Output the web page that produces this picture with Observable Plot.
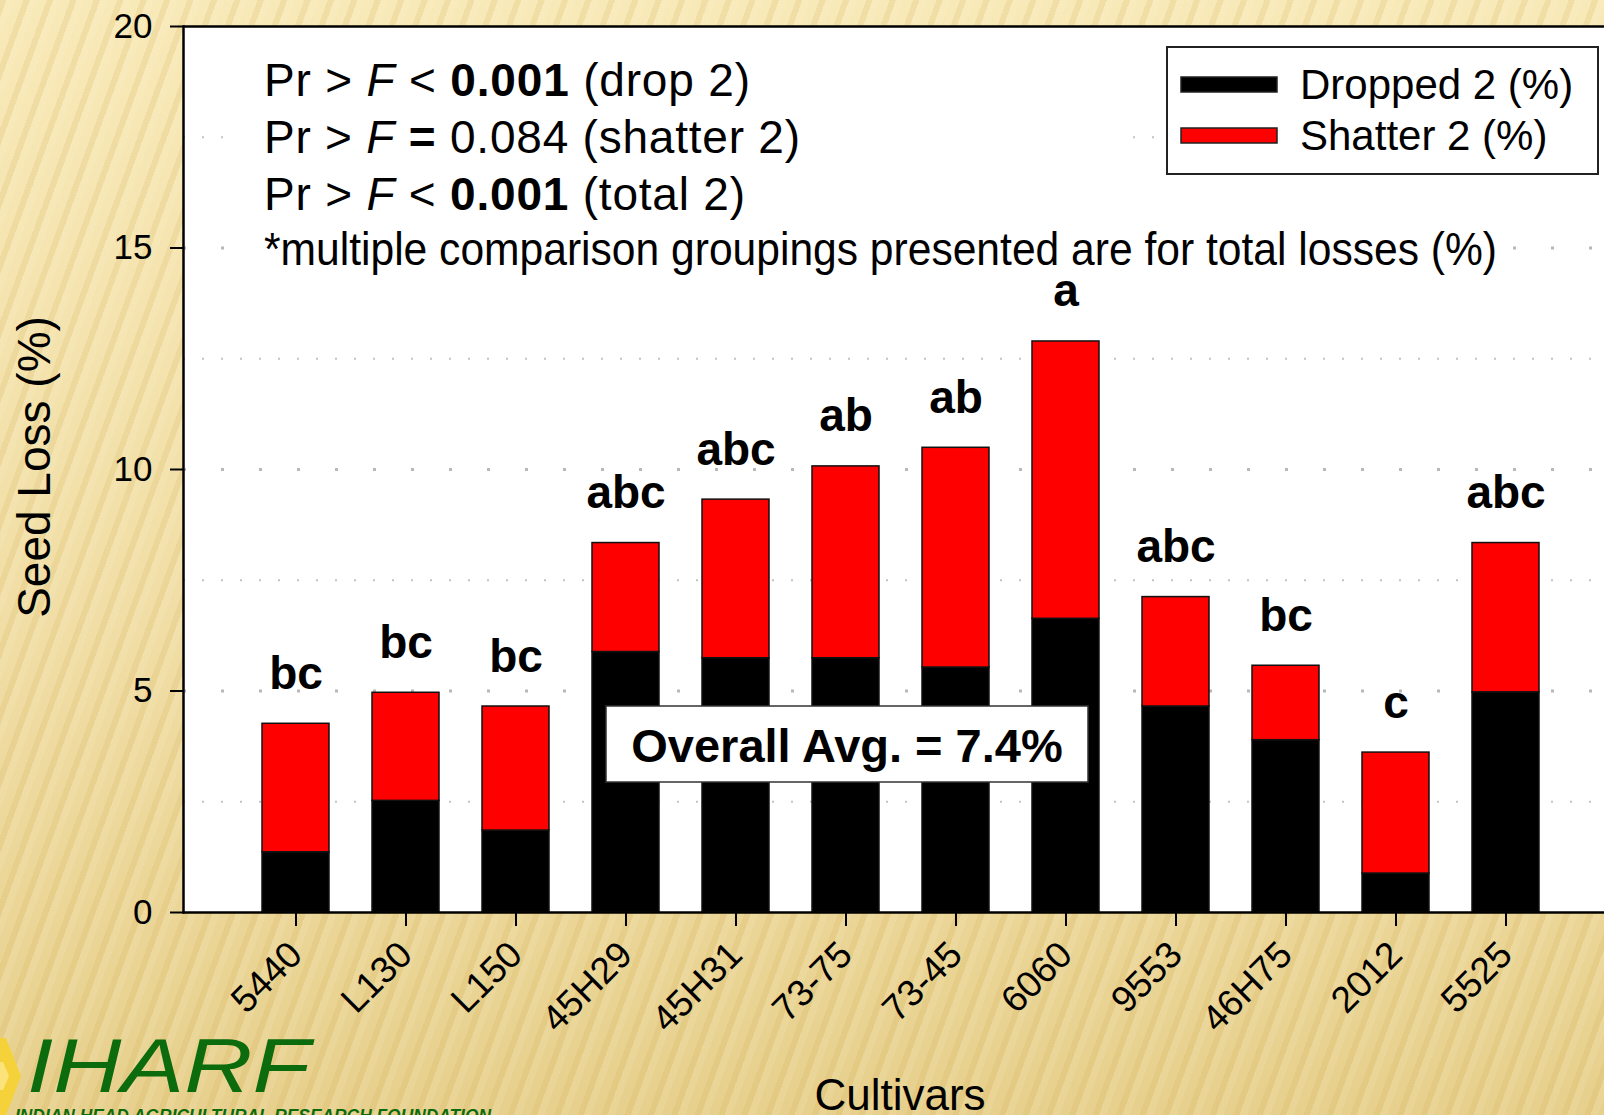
<!DOCTYPE html>
<html>
<head>
<meta charset="utf-8">
<script src="https://cdn.jsdelivr.net/npm/d3@7"></script>
<script src="https://cdn.jsdelivr.net/npm/@observablehq/plot@0.6"></script>
<style>
  html, body { margin: 0; padding: 0; }
  body {
    width: 1604px; height: 1115px; overflow: hidden;
    font-family: "Liberation Sans", Arial, sans-serif;
    background:
      repeating-linear-gradient(110deg, rgba(205,165,70,0.16) 0 6px, rgba(255,250,225,0.10) 6px 13px, rgba(0,0,0,0) 13px 22px),
      linear-gradient(to bottom, #f8e9b8 0%, #f1dea6 55%, #e7d08d 100%);
  }
  #wrap { position: relative; width: 1604px; height: 1115px; }
  #wrap svg { position: absolute; left: 0; top: 0; }
</style>
</head>
<body>
<div id="wrap"></div>
<script>
// Seed loss by cultivar: dropped + shatter (%), with grouping letters for total losses
const cultivars = ["5440", "L130", "L150", "45H29", "45H31", "73-75", "73-45", "6060", "9553", "46H75", "2012", "5525"];
const dropped   = [1.36, 2.52, 1.85, 5.88, 5.74, 5.74, 5.53, 6.63, 4.65, 3.89, 0.88, 4.97];
const shatter   = [2.90, 2.44, 2.80, 2.46, 3.58, 4.33, 4.96, 6.26, 2.47, 1.68, 2.73, 3.37];
const groupings = ["bc", "bc", "bc", "abc", "abc", "ab", "ab", "a", "abc", "bc", "c", "abc"];
const seriesNames  = ["Dropped 2 (%)", "Shatter 2 (%)"];
const seriesColors = ["#000000", "#ff0000"];
const yTicks    = [0, 5, 10, 15, 20];
const majorGrid = [5, 10, 15];
const minorGrid = [2.5, 7.5, 12.5, 17.5];
const statTests = ["drop 2", "shatter 2", "total 2"];
const statOps   = ["<", "=", "<"];
const statP     = ["0.001", "0.084", "0.001"];
const statPBold = [true, false, true];
const footnote  = "*multiple comparison groupings presented are for total losses (%)";
const overallAvg = "Overall Avg. = 7.4%";

const rows = cultivars.flatMap((c, i) => [
  {cultivar: c, series: seriesNames[0], value: dropped[i]},
  {cultivar: c, series: seriesNames[1], value: shatter[i]}
]);
const totals = cultivars.map((c, i) => ({cultivar: c, total: dropped[i] + shatter[i], group: groupings[i]}));

const W = 1604, H = 1115;

const chart = Plot.plot({
  width: W, height: H,
  marginTop: 26, marginBottom: 203, marginLeft: 183, marginRight: 0,
  style: {background: "transparent", fontFamily: "Liberation Sans, Arial, sans-serif", color: "#000", overflow: "visible"},
  x: {domain: cultivars, range: [217.5, 1584.1], padding: 0.39, label: null},
  y: {domain: [0, 20], label: null},
  color: {domain: seriesNames, range: seriesColors},
  marks: [
    Plot.frame({fill: "white", stroke: null}),
    Plot.ruleY(minorGrid, {stroke: "#c4c4c4", strokeWidth: 2, strokeDasharray: "2 17"}),
    Plot.ruleY(majorGrid, {stroke: "#b8b8b8", strokeWidth: 3, strokeDasharray: "3 35"}),
    Plot.barY(rows, {x: "cultivar", y: "value", fill: "series", stroke: "#111", strokeWidth: 1.5}),
    Plot.text(totals, {x: "cultivar", y: "total", text: "group", lineAnchor: "bottom", dy: -35, fontSize: 46, fontWeight: "bold"}),
    Plot.ruleY([0, 20], {stroke: "#000", strokeWidth: 2.5}),
    Plot.frame({anchor: "left", stroke: "#000", strokeWidth: 2.5}),
    Plot.axisY({ticks: yTicks, tickSize: 13, tickPadding: 18, fontSize: 35, label: null, strokeWidth: 2}),
    Plot.axisX({tickSize: 14, tickRotate: -45, fontSize: 37, label: null, tickPadding: 22, strokeWidth: 2})
  ]
});
document.getElementById("wrap").appendChild(chart);

// Annotation layer: axis titles, statistics, legend, average box, logo
const ov = d3.select("#wrap").append("svg")
  .attr("width", W).attr("height", H)
  .style("font-family", "Liberation Sans, Arial, sans-serif");

ov.append("text")
  .attr("transform", "translate(50,467) rotate(-90)")
  .attr("text-anchor", "middle").attr("font-size", 46)
  .text("Seed Loss (%)");

ov.append("text")
  .attr("x", 900).attr("y", 1110)
  .attr("text-anchor", "middle").attr("font-size", 44)
  .text("Cultivars");

// statistics block on a white panel that hides the grid behind it
const statBaselines = [96, 153, 210, 265];
const statWidths = [486, 536, 481, 1233];
const statG = ov.append("g");
statG.append("rect").attr("x", 240).attr("y", 52).attr("width", 885).attr("height", 172).attr("fill", "white");
statG.append("rect").attr("x", 240).attr("y", 226).attr("width", 1268).attr("height", 50).attr("fill", "white");
statTests.forEach((t, i) => {
  const tx = statG.append("text").attr("x", 264).attr("y", statBaselines[i]).attr("font-size", 46)
    .attr("textLength", statWidths[i]).attr("lengthAdjust", "spacing");
  tx.append("tspan").text("Pr > ");
  tx.append("tspan").attr("font-style", "italic").text("F");
  tx.append("tspan").attr("font-weight", statOps[i] === "=" ? "bold" : "normal").text(" " + statOps[i] + " ");
  tx.append("tspan").attr("font-weight", statPBold[i] ? "bold" : "normal").text(statP[i]);
  tx.append("tspan").text(" (" + t + ")");
});
statG.append("text").attr("x", 264).attr("y", statBaselines[3]).attr("font-size", 46)
  .attr("textLength", statWidths[3]).attr("lengthAdjust", "spacingAndGlyphs").text(footnote);

// legend
const lg = ov.append("g");
lg.append("rect").attr("x", 1167).attr("y", 47).attr("width", 431).attr("height", 127)
  .attr("fill", "white").attr("stroke", "#222").attr("stroke-width", 2);
const legendBaselines = [99, 150];
seriesNames.forEach((s, i) => {
  lg.append("rect").attr("x", 1181).attr("y", legendBaselines[i] - 22).attr("width", 96).attr("height", 15)
    .attr("fill", seriesColors[i]).attr("stroke", "#222").attr("stroke-width", 1.5);
  lg.append("text").attr("x", 1300).attr("y", legendBaselines[i]).attr("font-size", 42).text(s);
});

// overall average box
ov.append("rect").attr("x", 606).attr("y", 706).attr("width", 482).attr("height", 76)
  .attr("fill", "white").attr("stroke", "#333").attr("stroke-width", 1.5);
ov.append("text").attr("x", 847).attr("y", 762).attr("text-anchor", "middle")
  .attr("font-size", 47).attr("font-weight", "bold").text(overallAvg);

// logo
ov.append("polygon").attr("points", "0,1038 6,1038 21,1076 6,1115 0,1115").attr("fill", "#f6d23a");
ov.append("polygon").attr("points", "0,1062 3,1062 9,1076 3,1090 0,1090").attr("fill", "#fbe27a");
ov.append("text").attr("x", 27).attr("y", 1092)
  .attr("font-size", 76).attr("font-style", "italic").attr("fill", "#0c6b0c")
  .attr("textLength", 283).attr("lengthAdjust", "spacingAndGlyphs").text("IHARF");
ov.append("text").attr("x", 15).attr("y", 1122)
  .attr("font-size", 18).attr("font-style", "italic").attr("font-weight", "bold").attr("fill", "#0c6b0c")
  .attr("textLength", 476).attr("lengthAdjust", "spacingAndGlyphs").text("INDIAN HEAD AGRICULTURAL RESEARCH FOUNDATION");
</script>
</body>
</html>
